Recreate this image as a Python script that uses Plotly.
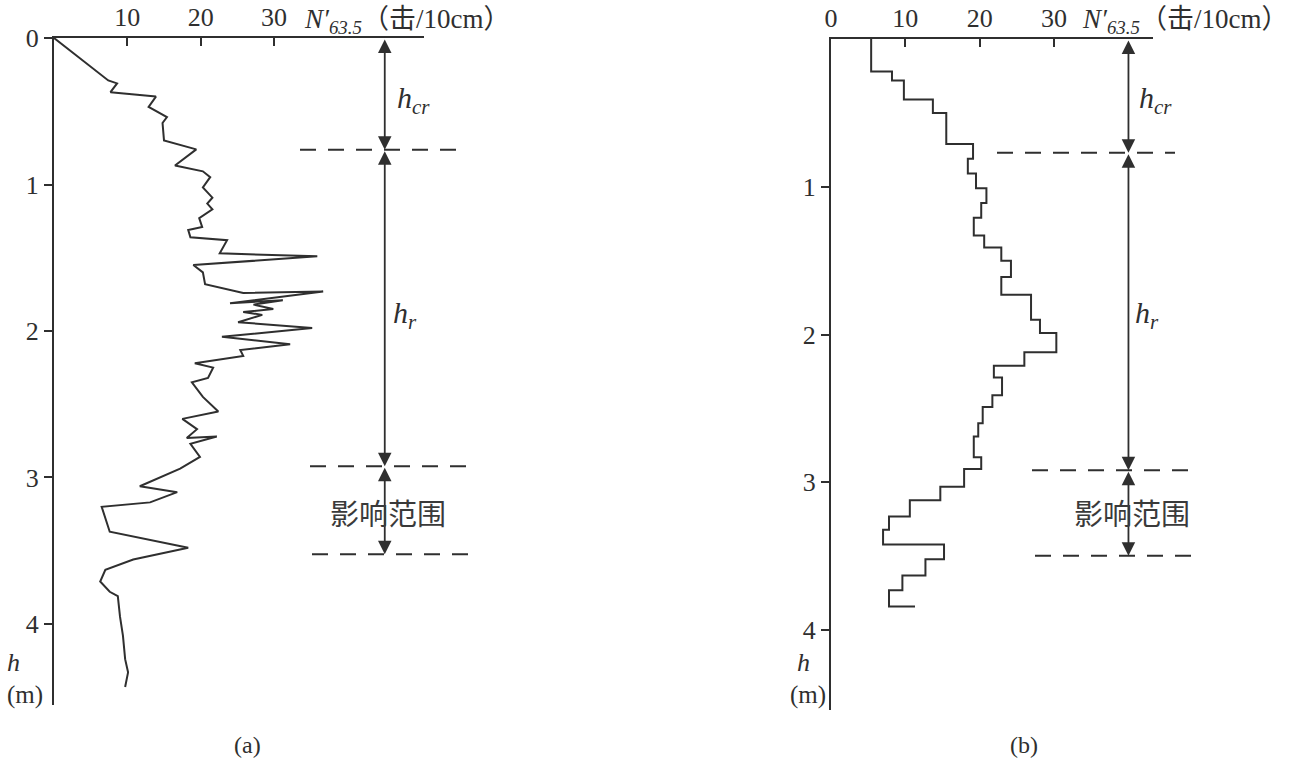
import plotly.graph_objects as go

# ---------------- data ----------------
# panel (a): continuous penetration record  N'63.5 (blows/10cm) vs depth h (m)
N_a = [0, 7.4, 8.6, 7.7, 13.9, 12.9, 15.4, 14.8, 15.0, 19.4, 16.5, 20.3, 21.3, 20.3, 21.6,
       20.9, 21.6, 19.8, 20.2, 18.3, 18.6, 23.6, 22.6, 35.9, 19.0, 20.3, 20.6, 25.8, 36.7,
       24.0, 31.2, 27.2, 29.9, 25.8, 28.4, 25.1, 35.2, 22.9, 32.2, 25.4, 25.8, 19.2, 21.7,
       21.0, 18.8, 20.3, 22.4, 17.5, 19.5, 18.1, 22.2, 18.6, 19.9, 17.2, 11.7, 16.8, 13.1,
       6.5, 7.6, 18.3, 10.8, 7.0, 6.3, 7.6, 8.7, 9.0, 9.4, 9.7, 10.1, 9.7]
h_a = [0, 0.29, 0.31, 0.37, 0.40, 0.47, 0.54, 0.58, 0.70, 0.76, 0.87, 0.91, 0.95, 1.02, 1.09,
       1.13, 1.17, 1.23, 1.29, 1.31, 1.36, 1.38, 1.47, 1.49, 1.55, 1.60, 1.68, 1.74, 1.73,
       1.81, 1.79, 1.82, 1.85, 1.87, 1.89, 1.94, 1.98, 2.04, 2.09, 2.13, 2.17, 2.22, 2.25,
       2.32, 2.35, 2.45, 2.55, 2.60, 2.67, 2.73, 2.72, 2.77, 2.86, 2.94, 3.06, 3.10, 3.17,
       3.20, 3.37, 3.48, 3.56, 3.63, 3.71, 3.78, 3.81, 3.95, 4.08, 4.24, 4.33, 4.43]

# panel (b): stepped record (value N_b starts at depth h_b)
N_b = [5.4, 8.2, 9.8, 13.7, 15.5, 19.1, 18.4, 19.5, 20.9, 20.2, 19.2, 20.6, 22.9, 24.2,
       22.9, 26.9, 28.1, 30.3, 26.0, 21.9, 23.0, 21.7, 20.4, 19.8, 19.2, 20.2, 17.9, 14.7,
       10.6, 7.8, 7.0, 15.2, 12.7, 9.6, 7.8, 11.3]
h_b = [0, 0.22, 0.28, 0.41, 0.50, 0.71, 0.81, 0.91, 1.01, 1.11, 1.21, 1.33, 1.41, 1.50,
       1.61, 1.73, 1.90, 1.99, 2.12, 2.21, 2.29, 2.41, 2.49, 2.60, 2.69, 2.83, 2.91, 3.03,
       3.12, 3.23, 3.32, 3.42, 3.52, 3.63, 3.73, 3.84]

# zone boundaries (depth, m): h_cr bottom, h_r bottom, influence-zone bottom
bounds_a = [0.763, 2.924, 3.524]
bounds_b = [0.769, 2.918, 3.497]

xticks_a = [10, 20, 30]
xticks_b = [0, 10, 20, 30]
yticks_a = [0, 1, 2, 3, 4]
yticks_b = [1, 2, 3, 4]

# ---------------- styling ----------------
W, H = 1291, 760
INK = "#2f2f2f"
SERIF = "Liberation Serif, Times New Roman, Noto Sans CJK SC, serif"
CJK = "Noto Sans CJK SC, sans-serif"


def px(x):
    return x / W


def py(y):
    return 1 - y / H


fig = go.Figure()
fig.add_trace(go.Scatter(x=N_a, y=h_a, mode="lines", xaxis="x", yaxis="y",
                         line=dict(color=INK, width=2), showlegend=False))
fig.add_trace(go.Scatter(x=N_b, y=h_b, mode="lines", xaxis="x2", yaxis="y2",
                         line=dict(color=INK, width=2, shape="vh"), showlegend=False))

axis_common = dict(showgrid=False, zeroline=False, showline=True, linecolor=INK,
                   linewidth=2, tickcolor=INK, tickwidth=2, ticklen=8, automargin=False,
                   tickfont=dict(family=SERIF, size=26, color=INK))

fig.update_layout(
    width=W, height=H, margin=dict(l=0, r=0, t=0, b=0, autoexpand=False),
    paper_bgcolor="white", plot_bgcolor="white",
    xaxis=dict(axis_common, domain=[px(54), px(424)], range=[0, 50.45], side="top",
               anchor="y", tickvals=xticks_a, ticks="inside"),
    yaxis=dict(axis_common, domain=[py(705), py(38)], range=[4.553, 0], anchor="x",
               tickvals=yticks_a, ticks="outside"),
    xaxis2=dict(axis_common, domain=[px(831), px(1153)], range=[0, 43.3], side="top",
                anchor="y2", tickvals=xticks_b, ticks="inside"),
    yaxis2=dict(axis_common, domain=[py(710), py(39)], range=[4.54, 0], anchor="x2",
                tickvals=yticks_b, ticks="outside"),
)

shapes = []
annots = []


def label(x, y, text, font, xanchor="center", yanchor="middle"):
    annots.append(dict(x=px(x), y=py(y), xref="paper", yref="paper", text=text,
                       showarrow=False, xanchor=xanchor, yanchor=yanchor, font=font))


def panel(xref, yref, bounds, arrow_x, arrow_px, dash_spans, lab_x, h_x, m_x, xlab_x, cap_x, cap):
    # dashed boundary lines
    for b, (x0, x1) in zip(bounds, dash_spans):
        shapes.append(dict(type="line", xref="paper", yref=yref, x0=px(x0), x1=px(x1),
                           y0=b, y1=b, line=dict(color=INK, width=2, dash="16px,12px")))
    # double arrows
    tops = [0] + bounds[:-1]
    for t, b in zip(tops, bounds):
        annots.append(dict(x=arrow_x, y=b, ax=arrow_x, ay=t, xref=xref, yref=yref,
                           axref=xref, ayref=yref, text="", showarrow=True,
                           arrowside="end+start", arrowhead=2, arrowsize=1.5,
                           arrowwidth=1.8, arrowcolor=INK, standoff=0, startstandoff=0))
    # zone labels
    label(lab_x, 100, "<i>h</i><sub><i>cr</i></sub>",
          dict(family=SERIF, size=30, color=INK), xanchor="left")
    label(lab_x - 4, 315, "<i>h</i><sub><i>r</i></sub>",
          dict(family=SERIF, size=30, color=INK), xanchor="left")
    label(arrow_px, 512, "影响范围", dict(family=CJK, size=29, color="#3a3a3a"))
    # depth axis label
    label(h_x, 662, "<i>h</i>", dict(family=SERIF, size=26, color=INK))
    label(m_x, 695, "(m)", dict(family=SERIF, size=25, color=INK))
    # N axis label
    label(xlab_x, 2, "<i>N′</i><sub><i>63.5</i></sub>（击/10cm）",
          dict(family=SERIF, size=27, color=INK), xanchor="left", yanchor="top")
    # caption
    label(cap_x, 745, cap, dict(family=SERIF, size=24, color=INK))


panel("x", "y", bounds_a, 45.1, 388, [(300, 462), (310, 472), (312, 472)],
      395, 14, 25, 302, 247, "(a)")
panel("x2", "y2", bounds_b, 40.0, 1132, [(997, 1175), (1032, 1195), (1035, 1195)],
      1137, 803, 808, 1080, 1024, "(b)")

fig.update_layout(shapes=shapes, annotations=annots)
fig.write_html("out.html", config={"displayModeBar": False},
               post_script="document.body.style.margin='0';document.body.style.overflow='hidden';")
